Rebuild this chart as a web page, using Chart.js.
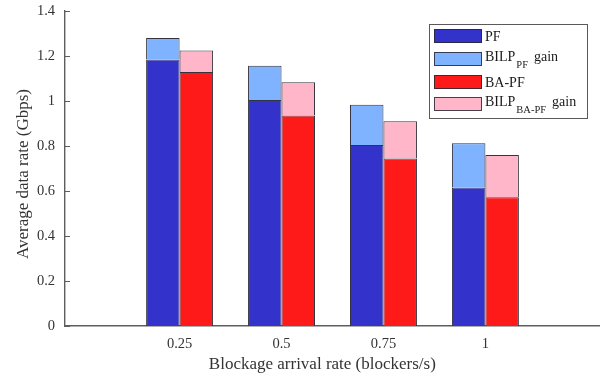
<!DOCTYPE html>
<html>
<head>
<meta charset="utf-8">
<script src="https://cdn.jsdelivr.net/npm/chart.js@4/dist/chart.umd.min.js"></script>
<style>
  html, body { margin: 0; padding: 0; background: #ffffff; }
  #wrap { width: 600px; height: 376px; }
</style>
</head>
<body>
<div id="wrap"><canvas id="rateChart" width="600" height="376"></canvas></div>
<script>
// Blockage arrival rates (blockers/s) on the x axis
const arrivalRates = [0.25, 0.5, 0.75, 1];
const xTickLabels = ['0.25', '0.5', '0.75', '1'];
const yTickValues = [0, 0.2, 0.4, 0.6, 0.8, 1, 1.2, 1.4];
const yTickLabels = ['0', '0.2', '0.4', '0.6', '0.8', '1', '1.2', '1.4'];

// Average data rate (Gbps)
const pfRate       = [1.185, 1.004, 0.804, 0.616];
const pfBilpGain   = [0.095, 0.153, 0.179, 0.196];
const baPfRate     = [1.129, 0.936, 0.745, 0.572];
const baPfBilpGain = [0.095, 0.147, 0.165, 0.188];

// Legend entries: [main text, subscript, trailing text]
const legendLabels = [
  ['PF', '', ''],
  ['BILP', 'PF', 'gain'],
  ['BA-PF', '', ''],
  ['BILP', 'BA-PF', 'gain']
];

const xTitle = 'Blockage arrival rate (blockers/s)';
const yTitle = 'Average data rate (Gbps)';

const SERIF = '"Liberation Serif", "DejaVu Serif", serif';
const AXIS_COLOR = '#5e5e5e';
const BAR_EDGE = '#34343f';

function points(values) {
  return arrivalRates.map((x, i) => ({ x: x, y: values[i] }));
}

// Inward tick marks, axis titles and the boxed legend
const decorPlugin = {
  id: 'decor',
  afterDraw(chart) {
    const ctx = chart.ctx;
    const area = chart.chartArea;
    const yScale = chart.scales.y;
    ctx.save();

    // tick marks pointing into the plot from the left axis
    ctx.strokeStyle = AXIS_COLOR;
    ctx.lineWidth = 1;
    yTickValues.forEach(v => {
      const py = Math.round(yScale.getPixelForValue(v)) + 0.5;
      ctx.beginPath();
      ctx.moveTo(area.left, py);
      ctx.lineTo(area.left + 5, py);
      ctx.stroke();
    });

    // axis titles
    ctx.fillStyle = '#333333';
    ctx.font = '17px ' + SERIF;
    ctx.textAlign = 'center';
    ctx.textBaseline = 'alphabetic';
    ctx.fillText(xTitle, area.left + (area.right - area.left) * 0.481, 369);

    ctx.save();
    ctx.translate(28, 174);
    ctx.rotate(-Math.PI / 2);
    ctx.fillText(yTitle, 0, 0);
    ctx.restore();

    // legend box
    const bx = 429, by = 24, bw = 158, bh = 94;
    ctx.fillStyle = '#ffffff';
    ctx.fillRect(bx, by, bw, bh);
    ctx.strokeStyle = '#5a5a5a';
    ctx.lineWidth = 1;
    ctx.strokeRect(bx + 0.5, by + 0.5, bw, bh);

    const rowTops = [29, 52, 75, 97];
    chart.data.datasets.forEach((ds, i) => {
      const top = rowTops[i];
      ctx.fillStyle = ds.backgroundColor;
      ctx.fillRect(434, top, 48, 14);
      ctx.strokeStyle = 'rgba(40,40,50,0.85)';
      ctx.lineWidth = 1;
      ctx.strokeRect(434.5, top + 0.5, 47, 13);

      const [main, sub, tail] = legendLabels[i];
      const base = top + 7 + (sub ? 2 : 4.5);
      ctx.fillStyle = '#1a1a1a';
      ctx.textAlign = 'left';
      ctx.textBaseline = 'alphabetic';
      ctx.font = '14px ' + SERIF;
      let x = 485;
      ctx.fillText(main, x, base);
      x += ctx.measureText(main).width + 1;
      if (sub) {
        ctx.font = '10.5px ' + SERIF;
        ctx.fillText(sub, x, base + 7);
        x += ctx.measureText(sub).width + 6;
        ctx.font = '14px ' + SERIF;
        ctx.fillText(tail, x, base);
      }
    });

    ctx.restore();
  }
};

const chart = new Chart(document.getElementById('rateChart'), {
  type: 'bar',
  data: {
    datasets: [
      { label: 'PF', data: points(pfRate), stack: 'pf',
        backgroundColor: '#3333cc' },
      { label: 'BILP PF gain', data: points(pfBilpGain), stack: 'pf',
        backgroundColor: '#80b3ff' },
      { label: 'BA-PF', data: points(baPfRate), stack: 'ba',
        backgroundColor: '#ff1a1a' },
      { label: 'BILP BA-PF gain', data: points(baPfBilpGain), stack: 'ba',
        backgroundColor: '#ffb6c9' }
    ]
  },
  options: {
    responsive: false,
    animation: false,
    layout: { padding: { top: 11, right: 0, bottom: 0, left: 0 } },
    datasets: {
      bar: {
        borderColor: BAR_EDGE,
        borderWidth: 1,
        categoryPercentage: 0.657,
        barPercentage: 1.0
      }
    },
    plugins: {
      legend: { display: false },
      tooltip: { enabled: false }
    },
    scales: {
      x: {
        type: 'linear',
        stacked: true,
        offset: false,
        min: -0.031,
        max: 1.281,
        grid: { display: false, drawTicks: false, offset: false },
        border: { display: true, color: AXIS_COLOR, width: 1.4 },
        afterBuildTicks: scale => { scale.ticks = arrivalRates.map(v => ({ value: v })); },
        afterFit: scale => {
          scale.height = 50;
          scale.paddingLeft = 0;
          scale.paddingRight = 0;
        },
        ticks: {
          autoSkip: false,
          maxRotation: 0,
          padding: 9,
          color: '#333333',
          font: { family: SERIF, size: 14.5 },
          callback: (value, index) => xTickLabels[index]
        }
      },
      y: {
        stacked: true,
        min: 0,
        max: 1.4,
        grid: { display: false, drawTicks: false },
        border: { display: true, color: AXIS_COLOR, width: 1.4 },
        afterBuildTicks: scale => { scale.ticks = yTickValues.map(v => ({ value: v })); },
        afterFit: scale => {
          scale.width = 65;
          scale.paddingTop = 0;
          scale.paddingBottom = 0;
        },
        ticks: {
          padding: 10,
          color: '#333333',
          font: { family: SERIF, size: 14.5 },
          callback: (value, index) => yTickLabels[index]
        }
      }
    }
  },
  plugins: [decorPlugin]
});
</script>
</body>
</html>
